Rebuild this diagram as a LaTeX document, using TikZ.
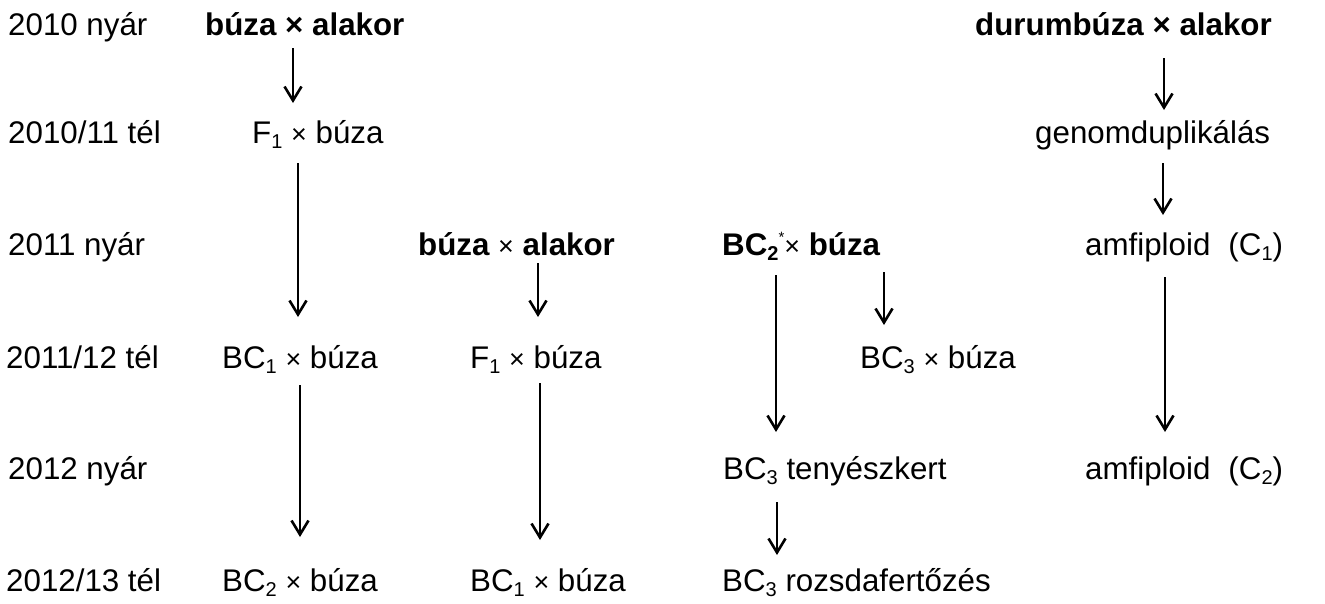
\documentclass[tikz,border=0pt]{standalone}
\usepackage{fontspec}
\setmainfont{Liberation Sans}
\usetikzlibrary{arrows.meta,calc}
\newcommand\sbs[1]{\raisebox{-5pt}{\fontsize{20}{20}\selectfont #1}}
\newcommand\sps[1]{\raisebox{13pt}{\fontsize{15}{15}\selectfont #1}}
\newcommand\tms{{\mdseries\fontsize{27}{30}\selectfont ×}}
\newcommand\vdown[5]{\draw[arr] ($(#1.base -| #3)+(0,#4)$) -- ($(#2.base -| #3)+(0,-#5)$);}
\begin{document}
\begin{tikzpicture}[x=1pt,y=-1pt,
  lab/.style={anchor=base west,inner sep=0pt,font=\fontsize{31.3}{36}\selectfont},
  bld/.style={lab,font=\fontsize{31.3}{36}\selectfont\bfseries},
  arr/.style={line width=2.6pt,-{Straight Barb[length=14pt,width=17pt,line width=2.6pt]}}]
\useasboundingbox (0,0) rectangle (1325,603);
% year labels
\node[lab] (y1) at (8,35) {2010 nyár};
\node[lab] (y2) at (8,143) {2010/11 tél};
\node[lab] (y3) at (8,255) {2011 nyár};
\node[lab] (y4) at (6,368) {2011/12 tél};
\node[lab] (y5) at (8,479) {2012 nyár};
\node[lab] (y6) at (6,591) {2012/13 tél};
% column 1
\node[bld] (a1) at (205,35) {búza × alakor};
\node[lab] (a2) at (252,143) {F\sbs{1} \tms{} búza};
\node[lab] (a4) at (222,368) {BC\sbs{1} \tms{} búza};
\node[lab] (a6) at (222,591) {BC\sbs{2} \tms{} búza};
% column 2
\node[bld] (b3) at (418,255) {búza \tms{} alakor};
\node[lab] (b4) at (470,368) {F\sbs{1} \tms{} búza};
\node[lab] (b6) at (470,591) {BC\sbs{1} \tms{} búza};
% column 3
\node[bld] (c3) at (722,255) {BC\sbs{2}\sps{\mdseries*}\tms{} búza};
\node[lab] (c4) at (860,368) {BC\sbs{3} \tms{} búza};
\node[lab] (c5) at (723,479) {BC\sbs{3} tenyészkert};
\node[lab] (c6) at (722,591) {BC\sbs{3} rozsdafertőzés};
% column 4
\node[bld] (d1) at (975,35) {durumbúza × alakor};
\node[lab] (d2) at (1035,143) {genomduplikálás};
\node[lab] (d3) at (1085,255) {amfiploid\hspace{18pt}(C\sbs{1})};
\node[lab] (d5) at (1085,479) {amfiploid\hspace{18pt}(C\sbs{2})};
% arrow columns
\coordinate (xa1) at (293,0);
\coordinate (xa2) at (298,0);
\coordinate (xa3) at (300,0);
\coordinate (xb1) at (538,0);
\coordinate (xb2) at (540,0);
\coordinate (xc1) at (776,0);
\coordinate (xc2) at (884,0);
\coordinate (xc3) at (777,0);
\coordinate (xd1) at (1164,0);
\coordinate (xd2) at (1163,0);
\coordinate (xd3) at (1165,0);
% arrows
\vdown{a1}{a2}{xa1}{13}{40}
\vdown{a2}{a4}{xa2}{20}{51}
\vdown{a4}{a6}{xa3}{17}{54}
\vdown{b3}{b4}{xb1}{8}{51}
\vdown{b4}{b6}{xb2}{15}{51}
\vdown{c3}{c5}{xc1}{20}{47}
\vdown{c3}{c4}{xc2}{17}{43}
\vdown{c5}{c6}{xc3}{23}{36}
\vdown{d1}{d2}{xd1}{23}{33}
\vdown{d2}{d3}{xd2}{20}{40}
\vdown{d3}{d5}{xd3}{22}{47}
\end{tikzpicture}
\end{document}
